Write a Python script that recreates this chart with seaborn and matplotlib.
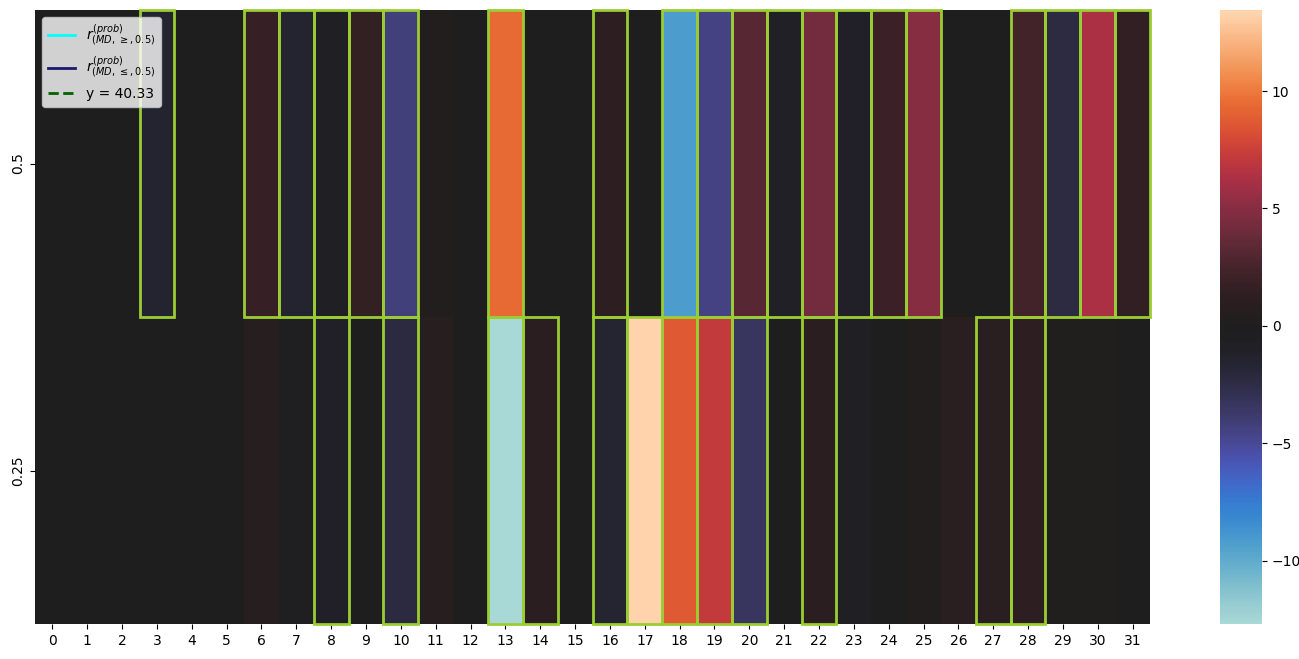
import numpy as np
import pandas as pd
import matplotlib
matplotlib.use("Agg")
import matplotlib.pyplot as plt
from matplotlib.patches import Rectangle
import seaborn as sns

columns = list(range(32))
row_labels = ["0.5", "0.25"]

values_05 = [0.0, 0.0, 0.0, -1.5, 0.0, 0.0, 1.8, -1.5, -0.7, 1.6,
             -4.3, 0.3, -0.2, 9.4, 0.0, 0.0, 1.2, -0.1, -9.2, -4.5,
             3.2, -0.9, 4.2, -1.0, 2.0, 5.0, 0.0, 0.0, 2.4, -2.3,
             6.2, 1.4]
values_025 = [0.0, 0.0, 0.0, 0.0, 0.0, -0.05, 0.7, -0.5, -1.0, -0.1,
              -2.2, 0.7, 0.0, -12.7, 1.0, 0.0, -1.6, 13.45, 8.7, 7.2,
              -3.4, -0.2, 1.0, -0.7, 0.05, 0.3, 0.9, 0.9, 1.1, 0.2,
              0.2, 0.0]

highlight_05 = [3, 6, 7, 8, 9, 10, 13, 16, 18, 19, 20, 21, 22, 23, 24, 25,
                28, 29, 30, 31]
highlight_025 = [8, 10, 13, 14, 16, 17, 18, 19, 20, 22, 27, 28]

legend_labels = [r"$r^{(prob)}_{(MD,\,\geq,0.5)}$",
                 r"$r^{(prob)}_{(MD,\,\leq,0.5)}$",
                 "y = 40.33"]

df = pd.DataFrame([values_05, values_025], index=row_labels, columns=columns)

fig = plt.figure(figsize=(12.99, 6.59), dpi=100)
ax = fig.add_axes([35 / 1299, 1 - 624 / 659, (1150 - 35) / 1299, (624 - 10) / 659])
cax = fig.add_axes([1220 / 1299, 1 - 624 / 659, 42 / 1299, (624 - 10) / 659])

sns.heatmap(df, ax=ax, cbar_ax=cax, cmap="icefire", center=0)

for ri, hl in enumerate([highlight_05, highlight_025]):
    for c in hl:
        ax.add_patch(Rectangle((c, ri), 1, 1, fill=False,
                               edgecolor="yellowgreen", lw=2, clip_on=False, zorder=3))

ax.set_yticklabels(row_labels, rotation=90, va="center")
ax.set_xticklabels([str(c) for c in columns], rotation=0)

ax.plot([], [], color="cyan", lw=2, label=legend_labels[0])
ax.plot([], [], color="midnightblue", lw=2, label=legend_labels[1])
ax.plot([], [], color="darkgreen", lw=2, ls="--", label=legend_labels[2])
ax.legend(loc="upper left")

fig.savefig("out.png", dpi=100)
